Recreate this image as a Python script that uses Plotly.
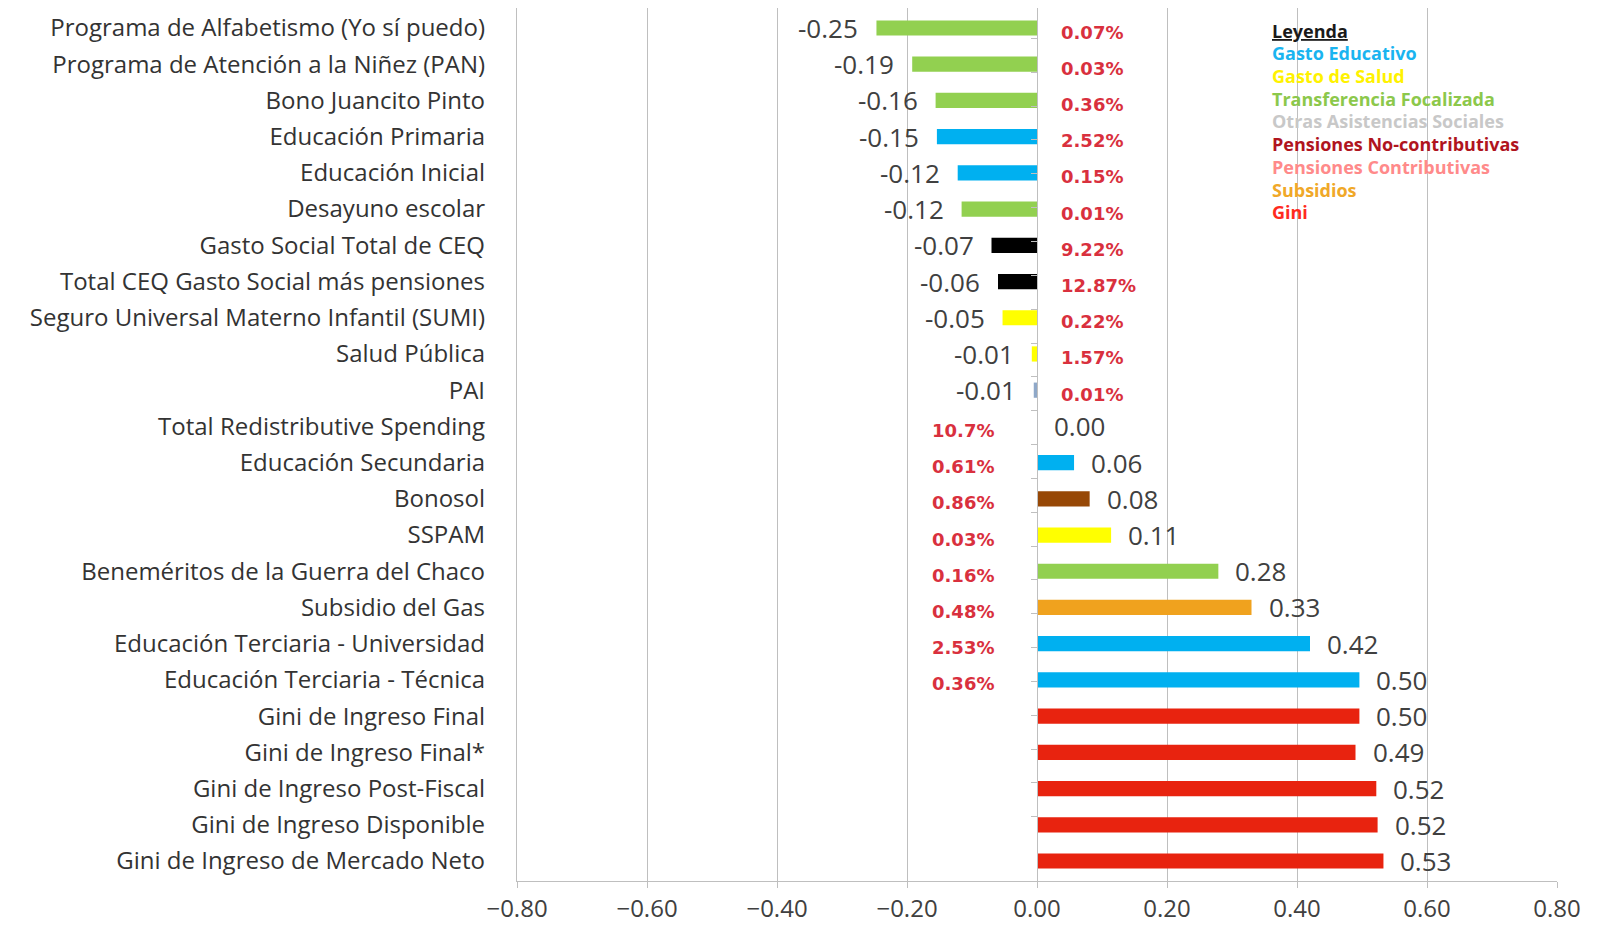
import plotly.graph_objects as go

# datos (de arriba hacia abajo)
categorias = [
    "Programa de Alfabetismo (Yo sí puedo)",
    "Programa de Atención a la Niñez (PAN)",
    "Bono Juancito Pinto",
    "Educación Primaria",
    "Educación Inicial",
    "Desayuno escolar",
    "Gasto Social Total de CEQ",
    "Total CEQ Gasto Social más pensiones",
    "Seguro Universal Materno Infantil (SUMI)",
    "Salud Pública",
    "PAI",
    "Total Redistributive Spending",
    "Educación Secundaria",
    "Bonosol",
    "SSPAM",
    "Beneméritos de la Guerra del Chaco",
    "Subsidio del Gas",
    "Educación Terciaria - Universidad",
    "Educación Terciaria - Técnica",
    "Gini de Ingreso Final",
    "Gini de Ingreso Final*",
    "Gini de Ingreso Post-Fiscal",
    "Gini de Ingreso Disponible",
    "Gini de Ingreso de Mercado Neto",
]
valores = [-0.247, -0.192, -0.156, -0.154, -0.122, -0.116, -0.070, -0.060,
           -0.053, -0.008, -0.005, 0.0, 0.057, 0.081, 0.114, 0.279, 0.330,
           0.420, 0.496, 0.496, 0.490, 0.522, 0.524, 0.533]
grupos = ["focalizada", "focalizada", "focalizada", "educativo", "educativo",
          "focalizada", "total", "total", "salud", "salud", "pai", "total",
          "educativo", "bonosol", "salud", "focalizada", "subsidios",
          "educativo", "educativo", "gini", "gini", "gini", "gini", "gini"]
porcentajes = ["0.07%", "0.03%", "0.36%", "2.52%", "0.15%", "0.01%", "9.22%",
               "12.87%", "0.22%", "1.57%", "0.01%", "10.7%", "0.61%", "0.86%",
               "0.03%", "0.16%", "0.48%", "2.53%", "0.36%", "", "", "", "", ""]
ticks_x = [-0.8, -0.6, -0.4, -0.2, 0.0, 0.2, 0.4, 0.6, 0.8]

leyenda = ["Gasto Educativo", "Gasto de Salud", "Transferencia Focalizada",
           "Otras Asistencias Sociales", "Pensiones No-contributivas",
           "Pensiones Contributivas", "Subsidios", "Gini"]
leyenda_colores = ["#1AB4F0", "#FFF200", "#8CC84B", "#C8C8C8", "#B0141E",
                   "#FF8A8A", "#F0A828", "#FF2A1E"]

color_grupo = {
    "focalizada": "#92D050",
    "educativo": "#00B0F0",
    "total": "#000000",
    "salud": "#FFFF00",
    "pai": "#8FA8C8",
    "bonosol": "#974806",
    "subsidios": "#F0A21E",
    "gini": "#E8230F",
}

GRIS = "#BFBFBF"
fuente = "Open Sans"

fig = go.Figure()
fig.add_trace(go.Bar(
    x=valores, y=categorias, orientation="h",
    marker=dict(color=[color_grupo[g] for g in grupos], line=dict(width=0)),
    width=0.42, hoverinfo="x+y", showlegend=False,
))
# traza invisible solo para el eje con marcas en el cero
fig.add_trace(go.Scatter(
    x=[0] * len(categorias), y=categorias, yaxis="y2", mode="markers",
    marker=dict(opacity=0), hoverinfo="skip", showlegend=False,
))

anotaciones = []
for cat, v, p in zip(categorias, valores, porcentajes):
    # valor al final de la barra
    anotaciones.append(dict(
        x=v, y=cat, xref="x", yref="y", text=f"{v:.2f}", showarrow=False,
        xanchor="right" if v < 0 else "left", xshift=-16 if v < 0 else 15,
        yshift=0, font=dict(family=fuente, size=26, color="#404040"),
    ))
    if p:
        anotaciones.append(dict(
            x=0, y=cat, xref="x", yref="y", text=p, showarrow=False,
            xanchor="left" if v < 0 else "right", xshift=22 if v < 0 else -41,
            yshift=-4, font=dict(family="DejaVu Sans", size=18, color="#D9303E",
                                 weight="bold"),
        ))

# leyenda de texto
anotaciones.append(dict(
    x=0.724, y=0.974, xref="paper", yref="paper", text="<b><u>Leyenda</u></b>",
    showarrow=False, xanchor="left", yanchor="middle",
    font=dict(family=fuente, size=18, color="#1A1A1A"),
))
for i, (t, c) in enumerate(zip(leyenda, leyenda_colores)):
    anotaciones.append(dict(
        x=0.724, y=0.974 - (i + 1) * 0.026, xref="paper", yref="paper",
        text=f"<b>{t}</b>", showarrow=False, xanchor="left", yanchor="middle",
        font=dict(family=fuente, size=18, color=c),
    ))

fig.update_layout(
    width=1590, height=917,
    margin=dict(l=509, r=41, t=0, b=44),
    plot_bgcolor="white", paper_bgcolor="white",
    annotations=anotaciones,
    xaxis=dict(
        range=[-0.8, 0.8], tickvals=ticks_x, tickformat=".2f",
        showgrid=True, gridcolor=GRIS, gridwidth=1.3, zeroline=False,
        showline=True, linecolor=GRIS, linewidth=1.3,
        ticks="outside", ticklen=6, tickcolor=GRIS, automargin=False,
        tickfont=dict(family=fuente, size=24, color="#404040"),
        ticklabelstandoff=0,
    ),
    yaxis=dict(
        autorange="reversed", showgrid=False, showline=True, linecolor=GRIS,
        linewidth=1.3, ticks="", ticklabelstandoff=26, automargin=False,
        tickfont=dict(family=fuente, size=24, color="#333333"),
    ),
    yaxis2=dict(
        overlaying="y", anchor="free", position=0.5, side="left",
        autorange="reversed", showgrid=False, showticklabels=False,
        showline=True, linecolor=GRIS, linewidth=1.3, automargin=False,
        ticks="outside", ticklen=6, tickcolor=GRIS, tickson="boundaries",
    ),
)

fig.write_html("out.html")
